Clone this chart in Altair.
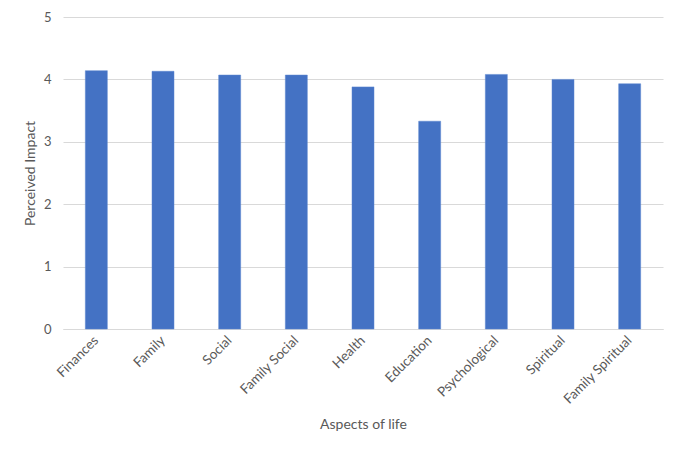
import altair as alt
import pandas as pd

categories = ["Finances", "Family", "Social", "Family Social", "Health",
              "Education", "Psychological", "Spiritual", "Family Spiritual"]
values = [4.14, 4.13, 4.07, 4.07, 3.88, 3.33, 4.08, 4.00, 3.93]

df = pd.DataFrame({"aspect": categories, "impact": values})

FONT = "Lato"
GRAY = "#595959"

chart = alt.Chart(df).mark_bar(color="#4472C4", stroke="#5b86d0", strokeWidth=0.5).encode(
    x=alt.X("aspect:N", sort=categories,
            scale=alt.Scale(paddingInner=0.67, paddingOuter=0.335),
            axis=alt.Axis(title="Aspects of life", labelAngle=-45, labelAlign="right",
                          labelBaseline="middle", labelPadding=9, ticks=False,
                          domainColor="#d9d9d9", domainWidth=1,
                          labelColor=GRAY, labelFont=FONT, labelFontSize=13.5,
                          titleColor=GRAY, titleFont=FONT, titleFontSize=14,
                          titleFontWeight="normal", titleY=95, titleBaseline="middle")),
    y=alt.Y("impact:Q", scale=alt.Scale(domain=[0, 5]),
            axis=alt.Axis(title="Perceived Impact", values=[0, 1, 2, 3, 4, 5], format="d",
                          ticks=False, domain=False, gridColor="#d9d9d9",
                          labelPadding=12, labelColor=GRAY, labelFont=FONT, labelFontSize=13,
                          titleColor=GRAY, titleFont=FONT, titleFontSize=14,
                          titleFontWeight="normal", titlePadding=6)),
).properties(
    width=600, height=312,
    autosize=alt.AutoSizeParams(type="none"),
    padding={"left": 55, "top": 9, "right": 14, "bottom": 115},
).configure_view(stroke=None)

chart.save("out.html", embed_options={"renderer": "svg", "actions": False})
